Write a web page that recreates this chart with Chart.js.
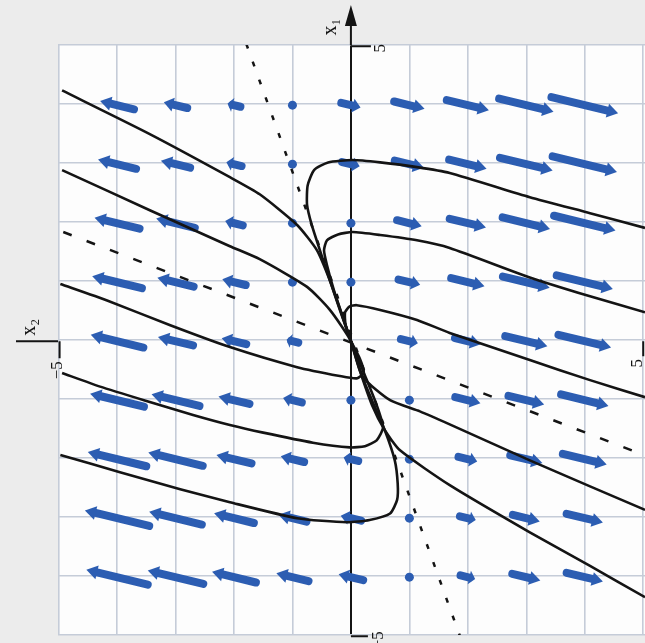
<!DOCTYPE html>
<html>
<head>
<meta charset="utf-8">
<title>Phase portrait</title>
<script src="https://cdn.jsdelivr.net/npm/chart.js@4.4.1/dist/chart.umd.min.js"></script>
<style>
    html, body { margin: 0; padding: 0; background: #ececec; }
    canvas { display: block; }
</style>
</head>
<body>
<canvas id="fase" width="645" height="643"></canvas>
<script>
// grid points of the direction field (x2 horizontal, x1 vertical)
const colsX2 = [-4, -3, -2, -1, 0, 1, 2, 3, 4];
const rowsX1 = [4, 3, 2, 1, 0, -1, -2, -3, -4];

// signed arrow length (x2 units), one row per x1
const arrowLen = [
    [-0.58, -0.40, -0.22, 0.08, 0.33, 0.52, 0.72, 0.93, 1.14],
    [-0.65, -0.50, -0.26, 0.05, 0.30, 0.50, 0.64, 0.90, 1.10],
    [-0.77, -0.66, -0.30, -0.10, 0.10, 0.42, 0.62, 0.81, 1.05],
    [-0.85, -0.62, -0.40, -0.16, 0.08, 0.37, 0.57, 0.80, 0.96],
    [-0.90, -0.60, -0.42, -0.20, 0.00, 0.29, 0.44, 0.72, 0.90],
    [-0.92, -0.82, -0.53, -0.32, -0.12, 0.12, 0.43, 0.61, 0.81],
    [-1.00, -0.93, -0.60, -0.40, -0.25, 0.05, 0.32, 0.55, 0.75],
    [-1.10, -0.90, -0.68, -0.48, -0.35, -0.05, 0.27, 0.46, 0.62],
    [-1.05, -0.95, -0.75, -0.55, -0.42, -0.05, 0.25, 0.48, 0.62]
];

// trajectories, [x2, x1]
const trajA = [[-4.94, 4.25], [-3.44, 3.51], [-2.07, 2.78], [-1.56, 2.49], [-0.92, 1.97], [-0.58, 1.54],
    [-0.36, 1.03], [-0.15, 0.44], [0, 0], [0.15, -0.49], [0.36, -1.08], [0.58, -1.51], [0.84, -1.85],
    [1.69, -2.44], [3.06, -3.24], [4.09, -3.81], [5.03, -4.34]];
const trajB = [[-4.94, 2.90], [-3.44, 2.22], [-2.07, 1.61], [-1.56, 1.39], [-0.75, 0.92], [-0.36, 0.53],
    [0, 0], [0.21, -0.61], [0.67, -1.00], [1.18, -1.19], [1.69, -1.41], [3.06, -2.02], [4.09, -2.46], [5.03, -2.86]];
const trajT1 = [[0, 0], [-0.19, 0.53], [-0.36, 1.03], [-0.53, 1.54], [-0.67, 1.97], [-0.75, 2.31], [-0.74, 2.64],
    [-0.63, 2.90], [-0.39, 3.03], [0.03, 3.07], [0.50, 3.03], [1.13, 2.95], [1.69, 2.85], [3.06, 2.44],
    [4.09, 2.17], [5.03, 1.92]];
const trajT2 = [[0, 0], [-0.15, 0.44], [-0.29, 0.86], [-0.41, 1.29], [-0.46, 1.54], [-0.41, 1.71], [-0.22, 1.81],
    [0.03, 1.85], [0.50, 1.80], [1.13, 1.71], [1.69, 1.58], [3.06, 1.08], [4.09, 0.76], [5.03, 0.49]];
const trajT3 = [[0, 0], [-0.09, 0.27], [-0.10, 0.49], [-0.02, 0.59], [0.10, 0.61], [0.50, 0.53], [1.13, 0.36],
    [1.69, 0.14], [3.06, -0.32], [4.09, -0.66], [5.03, -0.95]];
const trajL3 = [[-4.97, 0.97], [-4.17, 0.69], [-3.09, 0.27], [-2.07, -0.10], [-0.92, -0.44], [-0.19, -0.59],
    [0.10, -0.63], [0.22, -0.53], [0.15, -0.29], [0, 0]];
const trajL4 = [[-4.97, -1.93], [-3.95, -2.22], [-2.92, -2.51], [-2.07, -2.73], [-0.92, -3.00], [-0.07, -3.07],
    [0.32, -3.03], [0.67, -2.92], [0.79, -2.69], [0.80, -2.41], [0.75, -2.02], [0.58, -1.51], [0.36, -1.00],
    [0.15, -0.49], [0, 0]];
const trajL5 = [[-4.94, -0.54], [-4.29, -0.77], [-3.44, -1.03], [-2.70, -1.25], [-2.07, -1.42], [-1.50, -1.55],
    [-0.65, -1.72], [-0.02, -1.80], [0.24, -1.78], [0.44, -1.68], [0.55, -1.46], [0.44, -1.08], [0.24, -0.58], [0, 0]];

// eigen directions (dashed)
const fastLine = [[-1.79, 5.04], [1.88, -5.04]];
const slowLine = [[-4.92, 1.85], [4.96, -1.91]];

const toPts = arr => arr.map(([a, b]) => ({ x: a, y: b }));

const azul = '#2c5db2';
const negro = '#141414';

const curvas = [trajA, trajB, trajT1, trajT2, trajT3, trajL3, trajL4, trajL5].map(t => ({
    data: toPts(t),
    showLine: true,
    borderColor: negro,
    borderWidth: 2.6,
    pointRadius: 0,
    tension: 0.2
}));

const rectas = [
    { data: toPts(fastLine), showLine: true, borderColor: negro, borderWidth: 2.5, borderDash: [5, 14], pointRadius: 0 },
    { data: toPts(slowLine), showLine: true, borderColor: negro, borderWidth: 2.5, borderDash: [9, 16], pointRadius: 0 }
];

const fondo = {
    id: 'fondo',
    beforeDraw(chart) {
        const { ctx, chartArea: a } = chart;
        ctx.save();
        ctx.fillStyle = '#ececec';
        ctx.fillRect(0, 0, chart.width, chart.height);
        ctx.fillStyle = '#fdfdfd';
        ctx.fillRect(a.left, a.top, a.right - a.left, a.bottom - a.top);
        ctx.restore();
    }
};

const flechas = {
    id: 'flechas',
    beforeDatasetsDraw(chart) {
        const { ctx, scales: { x, y } } = chart;
        const pendiente = 0.24;
        ctx.save();
        ctx.fillStyle = azul;
        ctx.strokeStyle = azul;
        ctx.lineCap = 'round';
        rowsX1.forEach((x1, r) => {
            colsX2.forEach((x2, c) => {
                const len = arrowLen[r][c];
                const x0 = x.getPixelForValue(x2 - len / 2);
                const y0 = y.getPixelForValue(x1 + pendiente * len / 2);
                const xe = x.getPixelForValue(x2 + len / 2);
                const ye = y.getPixelForValue(x1 - pendiente * len / 2);
                const dx = xe - x0, dy = ye - y0;
                const L = Math.hypot(dx, dy);
                if (L < 1) return;
                if (L < 10) {
                    ctx.beginPath();
                    ctx.arc(x.getPixelForValue(x2), y.getPixelForValue(x1), 4.5, 0, Math.PI * 2);
                    ctx.fill();
                    return;
                }
                const ux = dx / L, uy = dy / L;
                const cab = Math.min(11, L * 0.4);
                ctx.lineWidth = 8;
                ctx.beginPath();
                ctx.moveTo(x0, y0);
                ctx.lineTo(xe - ux * cab, ye - uy * cab);
                ctx.stroke();
                ctx.beginPath();
                ctx.moveTo(xe, ye);
                ctx.lineTo(xe - ux * cab - uy * 7, ye - uy * cab + ux * 7);
                ctx.lineTo(xe - ux * cab + uy * 7, ye - uy * cab - ux * 7);
                ctx.closePath();
                ctx.fill();
            });
        });
        ctx.restore();
    }
};

function textoGirado(ctx, txt, px, py, font) {
    ctx.save();
    ctx.translate(px, py);
    ctx.rotate(-Math.PI / 2);
    ctx.font = font;
    ctx.textAlign = 'center';
    ctx.textBaseline = 'middle';
    ctx.fillText(txt, 0, 0);
    ctx.restore();
}

const ejes = {
    id: 'ejes',
    afterDraw(chart) {
        const { ctx, chartArea: a, scales: { x, y } } = chart;
        const ox = x.getPixelForValue(0);
        const oy = y.getPixelForValue(0);
        ctx.save();
        ctx.strokeStyle = negro;
        ctx.fillStyle = negro;
        ctx.lineWidth = 2;
        // prolongacion de los ejes
        ctx.beginPath();
        ctx.moveTo(ox, a.top);
        ctx.lineTo(ox, 14);
        ctx.moveTo(a.left, oy);
        ctx.lineTo(16, oy);
        ctx.stroke();
        ctx.beginPath();
        ctx.moveTo(ox, 5);
        ctx.lineTo(ox - 6, 26);
        ctx.lineTo(ox + 6, 26);
        ctx.closePath();
        ctx.fill();
        // marcas de los extremos
        const t5 = y.getPixelForValue(5);
        const tm5 = y.getPixelForValue(-5);
        const l5 = x.getPixelForValue(-5);
        const r5 = x.getPixelForValue(5);
        ctx.beginPath();
        ctx.moveTo(ox, t5); ctx.lineTo(ox + 20, t5);
        ctx.moveTo(ox, tm5); ctx.lineTo(ox + 17, tm5);
        ctx.moveTo(l5 + 1, oy); ctx.lineTo(l5 + 1, oy + 17);
        ctx.moveTo(r5, oy); ctx.lineTo(r5, oy + 15);
        ctx.stroke();
        const f = '17px "Liberation Serif"';
        textoGirado(ctx, '5', ox + 30, t5 + 2, f);
        textoGirado(ctx, '\u22125', ox + 28, tm5 + 4, f);
        textoGirado(ctx, '\u22125', l5 - 1, oy + 29, f);
        textoGirado(ctx, '5', r5 - 6, oy + 22, f);
        textoGirado(ctx, 'x\u2081', ox - 20, 27, '20px "Liberation Serif"');
        textoGirado(ctx, 'x\u2082', 30, oy - 14, '20px "Liberation Serif"');
        ctx.restore();
    }
};

const ejeOpts = (min, max) => ({
    type: 'linear',
    min: min,
    max: max,
    ticks: { display: false, stepSize: 1, includeBounds: false },
    grid: {
        drawTicks: false,
        color: c => (c.tick && c.tick.value === 0) ? negro : '#c5ccd8',
        lineWidth: c => (c.tick && c.tick.value === 0) ? 2 : 1.6
    },
    border: { display: false }
});

new Chart(document.getElementById('fase'), {
    type: 'scatter',
    data: { datasets: [...rectas, ...curvas] },
    options: {
        responsive: false,
        animation: false,
        devicePixelRatio: 1,
        layout: { autoPadding: false, padding: { left: 58, top: 45, right: 0, bottom: 8 } },
        plugins: { legend: { display: false }, tooltip: { enabled: false } },
        scales: {
            x: ejeOpts(-5.01, 5.03),
            y: ejeOpts(-4.98, 5.02)
        }
    },
    plugins: [fondo, flechas, ejes]
});
</script>
</body>
</html>
